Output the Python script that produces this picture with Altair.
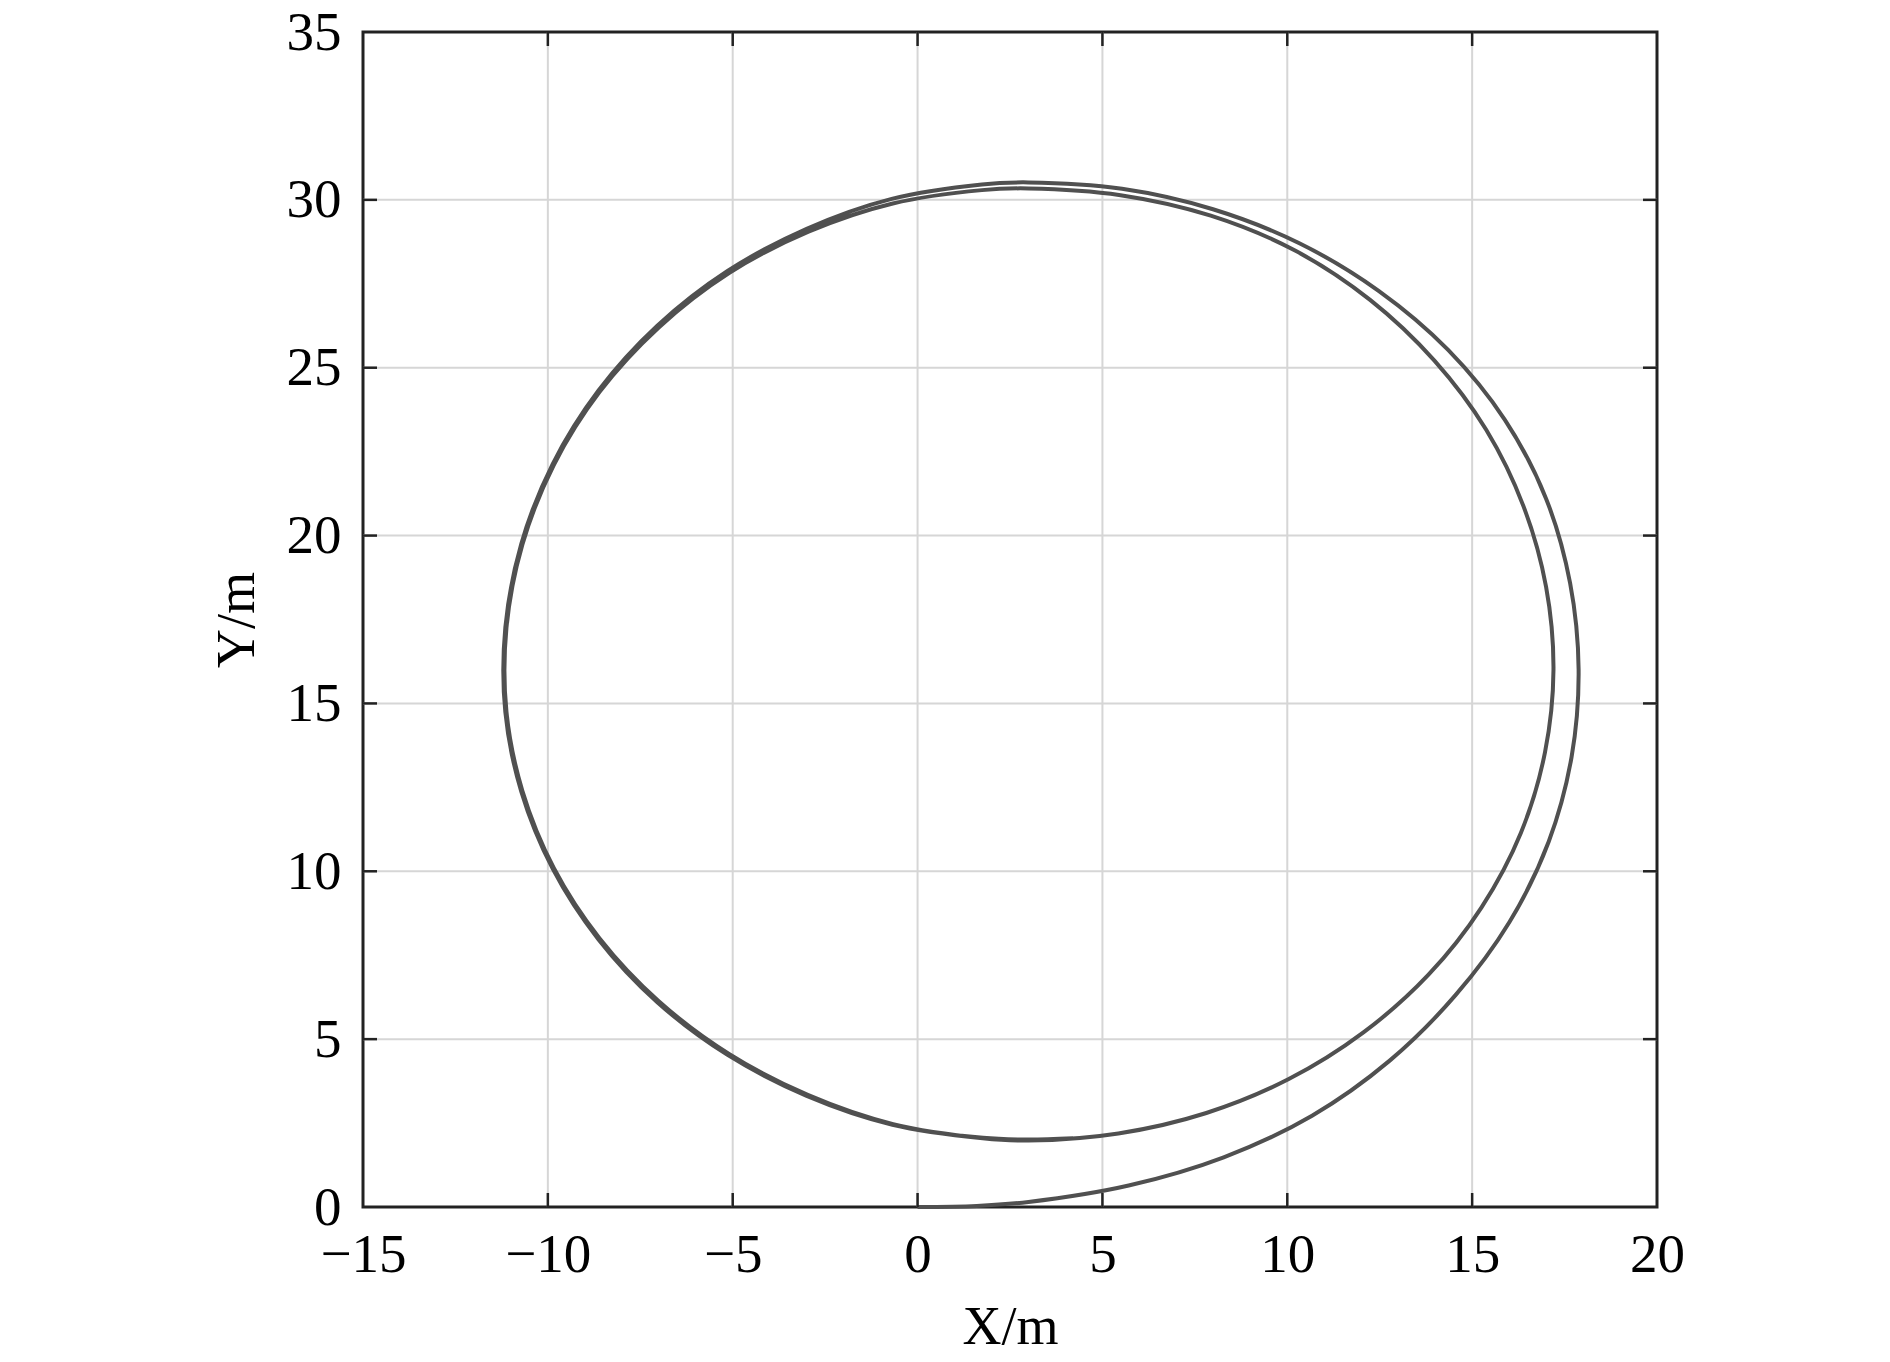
import altair as alt
import pandas as pd

x_ticks = [-15, -10, -5, 0, 5, 10, 15, 20]
y_ticks = [0, 5, 10, 15, 20, 25, 30, 35]

# first loop (starts at origin, outer on the right)
loop1_x = [0.0, 1.6, 3.0, 5.71, 8.28, 10.67, 12.77, 14.55, 16.01, 17.07, 17.69, 17.88,
           17.65, 17.0, 15.89, 14.35, 12.47, 10.34, 7.99, 5.53, 3.0,
           1.74, -0.7, -3.0, -5.14, -7.04, -8.63, -9.87, -10.72, -11.15, -11.15,
           -10.72, -9.87, -8.63, -7.04, -5.14, -3.0, -0.68, 1.76, 3.0]
loop1_y = [0.0, 0.03, 0.15, 0.64, 1.48, 2.72, 4.36, 6.31, 8.49, 10.88, 13.41, 16.0,
           18.58, 21.1, 23.44, 25.53, 27.29, 28.7, 29.72, 30.33, 30.52,
           30.46, 30.03, 29.14, 27.88, 26.25, 24.32, 22.13, 19.75, 17.26, 14.74,
           12.38, 10.08, 7.97, 6.1, 4.53, 3.31, 2.45, 2.05, 1.98]

# second loop (inner on the right, overlapping on the left)
loop2_x = [5.43, 7.81, 10.04, 12.06, 13.82, 15.25, 16.32, 16.97, 17.2,
           17.0, 16.39, 15.38, 13.98, 12.24, 10.21, 7.93, 5.49, 3.0,
           1.74, -0.67, -2.95, -5.1, -7.0, -8.6, -9.84, -10.69, -11.12, -11.12,
           -10.69, -9.84, -8.6, -7.0, -5.1, -2.97, -0.66, 1.77, 3.0, 4.2]
loop2_y = [2.19, 2.8, 3.81, 5.2, 6.92, 8.92, 11.15, 13.54, 16.0,
           18.47, 20.87, 23.15, 25.21, 27.02, 28.49, 29.53, 30.14, 30.34,
           30.29, 29.89, 29.05, 27.82, 26.2, 24.28, 22.1, 19.73, 17.25, 14.75,
           12.4, 10.1, 8.0, 6.13, 4.56, 3.34, 2.47, 2.06, 2.01, 2.05]

px = loop1_x + loop2_x
py = loop1_y + loop2_y
df = pd.DataFrame({"x": px, "y": py, "order": list(range(len(px)))})

W, H = 1294, 1175
TL = 14
FONT = "Liberation Serif"

xscale = alt.Scale(domain=[-15, 20], nice=False, zero=False)
yscale = alt.Scale(domain=[0, 35], nice=False, zero=False)

x_axis = alt.Axis(values=x_ticks, title="X/m", grid=False, ticks=False, domain=False,
                  labelPadding=21, titlePadding=18, format="d", labelFlush=False,
                  labelOverlap=False)
y_axis = alt.Axis(values=y_ticks, title="Y/m", grid=False, ticks=False, domain=False,
                  labelPadding=22, titlePadding=22, format="d", labelFlush=False,
                  labelOverlap=False)

xt = pd.DataFrame({"x": x_ticks[1:-1]})
yt = pd.DataFrame({"y": y_ticks[1:-1]})

grid_style = dict(color="#d6d6d6", strokeWidth=2)
tick_style = dict(color="#222222", strokeWidth=2.5)

vgrid = alt.Chart(xt).mark_rule(**grid_style).encode(
    x=alt.X("x:Q", scale=xscale, axis=x_axis), y=alt.value(0), y2=alt.value(H))
hgrid = alt.Chart(yt).mark_rule(**grid_style).encode(
    y=alt.Y("y:Q", scale=yscale, axis=y_axis), x=alt.value(0), x2=alt.value(W))

curve = alt.Chart(df).mark_line(color="#505050", strokeWidth=4, interpolate="catmull-rom").encode(
    x=alt.X("x:Q", scale=xscale, axis=x_axis),
    y=alt.Y("y:Q", scale=yscale, axis=y_axis),
    order="order:Q",
)

bottom_ticks = alt.Chart(xt).mark_rule(**tick_style).encode(
    x=alt.X("x:Q", scale=xscale, axis=x_axis), y=alt.value(H), y2=alt.value(H - TL))
top_ticks = alt.Chart(xt).mark_rule(**tick_style).encode(
    x=alt.X("x:Q", scale=xscale, axis=x_axis), y=alt.value(0), y2=alt.value(TL))
left_ticks = alt.Chart(yt).mark_rule(**tick_style).encode(
    y=alt.Y("y:Q", scale=yscale, axis=y_axis), x=alt.value(0), x2=alt.value(TL))
right_ticks = alt.Chart(yt).mark_rule(**tick_style).encode(
    y=alt.Y("y:Q", scale=yscale, axis=y_axis), x=alt.value(W), x2=alt.value(W - TL))

chart = alt.layer(vgrid, hgrid, curve, bottom_ticks, top_ticks, left_ticks, right_ticks).properties(
    width=W, height=H,
    autosize=alt.AutoSizeParams(type="none"),
    padding={"left": 355, "top": 24, "right": 200, "bottom": 150},
).configure_view(
    stroke="#222222", strokeWidth=3
).configure_axis(
    labelFont=FONT, titleFont=FONT, labelFontSize=55, titleFontSize=54,
    labelColor="#000000", titleColor="#000000", titleFontWeight="normal",
)

chart.save("out.html", embed_options={"renderer": "svg", "actions": False})
